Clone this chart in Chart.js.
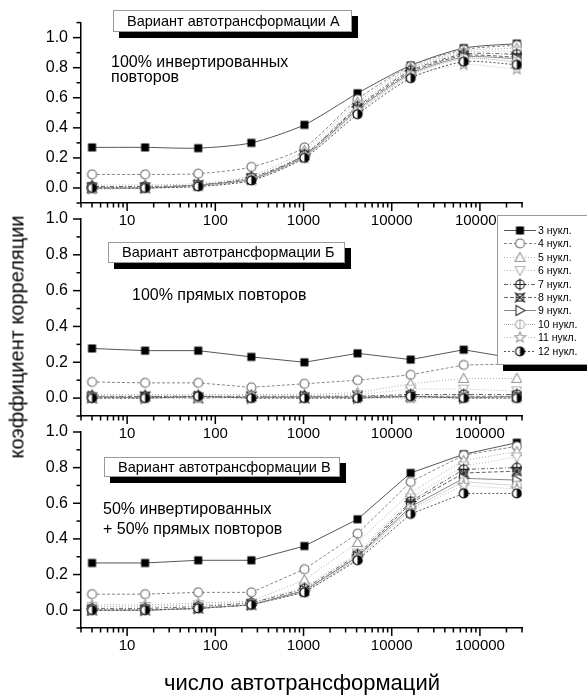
<!DOCTYPE html>
<html>
<head>
<meta charset="utf-8">
<script src="https://cdn.jsdelivr.net/npm/chart.js@4.4.0/dist/chart.umd.min.js"></script>
<style>
html, body { margin: 0; padding: 0; background: #fff; overflow: hidden; }
#wrap { position: relative; width: 587px; height: 698px; overflow: hidden; font-family: "Liberation Sans", Arial, sans-serif; color: #000; }
#wrap canvas.panel { position: absolute; left: 0; top: 0; }
.vbox { position: absolute; box-sizing: border-box; background: #fff; border: 1px solid #999; box-shadow: 6px 6px 0 #000; font-size: 14.5px; white-space: nowrap; padding-left: 13px; }
.note { position: absolute; font-size: 16px; white-space: nowrap; }
.title { position: absolute; white-space: nowrap; transform: translate(-50%, -50%); }
#legend { position: absolute; left: 497px; top: 215px; width: 110px; height: 150px; box-sizing: border-box; background: #fff; border: 1px solid #999; box-shadow: 6px 6px 0 #000; padding-top: 8px; }
#legend .row { position: relative; height: 13.4px; font-size: 10.5px; line-height: 13.4px; }
#legend .row canvas { position: absolute; left: 6px; top: 0; }
#legend .row span { position: absolute; left: 40px; top: 0; white-space: nowrap; }
</style>
</head>
<body>
<div id="wrap">
  <canvas id="chartA" class="panel" width="587" height="698"></canvas>
  <canvas id="chartB" class="panel" width="587" height="698"></canvas>
  <canvas id="chartC" class="panel" width="587" height="698"></canvas>

  <div class="vbox" style="left:113px;top:10px;width:239px;height:22px;line-height:20px;">Вариант автотрансформации А</div>
  <div class="note" style="left:111px;top:54px;line-height:15px;">100% инвертированных<br>повторов</div>

  <div class="vbox" style="left:108px;top:242px;width:237px;height:21px;line-height:19px;">Вариант автотрансформации Б</div>
  <div class="note" style="left:132px;top:287px;line-height:16px;">100% прямых повторов</div>

  <div class="vbox" style="left:104px;top:457px;width:236px;height:20px;line-height:18px;">Вариант автотрансформации В</div>
  <div class="note" style="left:103px;top:499px;line-height:20px;">50% инвертированных<br>+ 50% прямых повторов</div>

  <div class="title" style="left:17px;top:337px;font-size:20px;transform:translate(-50%,-50%) rotate(-90deg);">коэффициент корреляции</div>
  <div class="title" style="left:302px;top:683px;font-size:22px;">число автотрансформаций</div>

  <div id="legend"></div>
</div>

<script>
// --- datos ---
const xValues = [4, 16, 64, 256, 1024, 4096, 16384, 65536, 262144];
const seriesLabels = ['3 нукл.', '4 нукл.', '5 нукл.', '6 нукл.', '7 нукл.', '8 нукл.', '9 нукл.', '10 нукл.', '11 нукл.', '12 нукл.'];
const yTickLabels = ['0.0', '0.2', '0.4', '0.6', '0.8', '1.0'];

// Вариант А: 100% инвертированных повторов
const panelA = [
  [0.27, 0.27, 0.265, 0.30, 0.42, 0.63, 0.815, 0.93, 0.96],
  [0.09, 0.09, 0.095, 0.14, 0.27, 0.59, 0.81, 0.92, 0.95],
  [0.02, 0.02, 0.03, 0.08, 0.25, 0.57, 0.80, 0.91, 0.93],
  [0.01, 0.01, 0.02, 0.07, 0.23, 0.55, 0.79, 0.90, 0.91],
  [0.01, 0.01, 0.02, 0.07, 0.22, 0.54, 0.78, 0.89, 0.89],
  [0.00, 0.00, 0.02, 0.06, 0.22, 0.53, 0.77, 0.88, 0.87],
  [0.00, 0.00, 0.02, 0.06, 0.21, 0.52, 0.76, 0.87, 0.86],
  [0.00, 0.00, 0.01, 0.06, 0.21, 0.51, 0.75, 0.86, 0.84],
  [-0.01, 0.00, 0.01, 0.05, 0.20, 0.50, 0.74, 0.82, 0.79],
  [0.00, 0.00, 0.01, 0.05, 0.20, 0.49, 0.73, 0.84, 0.82]
];

// Вариант Б: 100% прямых повторов
const panelB = [
  [0.277, 0.265, 0.265, 0.23, 0.20, 0.25, 0.215, 0.27, 0.22],
  [0.09, 0.085, 0.085, 0.06, 0.08, 0.10, 0.13, 0.185, 0.19],
  [0.02, 0.02, 0.02, 0.02, 0.02, 0.03, 0.08, 0.11, 0.11],
  [0.01, 0.01, 0.01, 0.01, 0.01, 0.02, 0.05, 0.05, 0.04],
  [0.01, 0.01, 0.01, 0.01, 0.01, 0.01, 0.02, 0.02, 0.02],
  [0.00, 0.01, 0.00, 0.01, 0.00, 0.01, 0.01, 0.01, 0.01],
  [0.01, 0.00, 0.01, 0.00, 0.01, 0.00, 0.01, 0.00, 0.01],
  [0.00, 0.00, 0.00, 0.01, 0.00, 0.01, 0.00, 0.01, 0.00],
  [0.00, 0.00, 0.00, 0.00, 0.00, 0.00, 0.00, 0.00, 0.00],
  [0.00, 0.00, 0.01, 0.00, 0.00, 0.00, 0.01, 0.00, 0.00]
];

// Вариант В: 50% инвертированных + 50% прямых повторов
const panelC = [
  [0.265, 0.265, 0.28, 0.28, 0.36, 0.51, 0.77, 0.875, 0.94],
  [0.09, 0.09, 0.10, 0.10, 0.23, 0.43, 0.72, 0.87, 0.92],
  [0.03, 0.03, 0.04, 0.05, 0.17, 0.38, 0.66, 0.84, 0.89],
  [0.02, 0.02, 0.03, 0.04, 0.13, 0.32, 0.63, 0.81, 0.86],
  [0.01, 0.01, 0.02, 0.04, 0.12, 0.31, 0.61, 0.79, 0.80],
  [0.00, 0.00, 0.01, 0.03, 0.11, 0.30, 0.60, 0.77, 0.78],
  [0.00, 0.00, 0.01, 0.03, 0.11, 0.30, 0.58, 0.74, 0.73],
  [0.00, 0.00, 0.01, 0.03, 0.10, 0.29, 0.57, 0.72, 0.70],
  [0.00, 0.00, 0.01, 0.03, 0.10, 0.29, 0.56, 0.70, 0.68],
  [0.00, 0.00, 0.01, 0.03, 0.10, 0.28, 0.54, 0.655, 0.655]
];

// --- estilo de cada serie ---
const markerKinds = ['square', 'circle', 'triUp', 'triDown', 'circlePlus', 'xBox', 'triRight', 'circleBar', 'star', 'halfCircle'];
const markerColors = ['#000', '#666', '#999', '#b5b5b5', '#222', '#222', '#333', '#aaa', '#999', '#000'];
const lineColors = ['#555', '#888', '#aaa', '#bbb', '#666', '#666', '#888', '#aaa', '#bbb', '#555'];
const lineDashes = [[], [3, 2], [1, 2], [1, 2], [4, 2, 1, 2], [4, 2], [], [1, 1], [1, 2], [2, 2]];

function makeMarker(kind, color) {
  const c = document.createElement('canvas');
  c.width = 13; c.height = 13;
  const g = c.getContext('2d');
  const m = 6.5, r = 4.5;
  g.lineWidth = 1.1;
  g.strokeStyle = color;
  g.fillStyle = '#fff';
  const poly = (pts) => {
    g.beginPath();
    pts.forEach((p, i) => i ? g.lineTo(p[0], p[1]) : g.moveTo(p[0], p[1]));
    g.closePath(); g.fill(); g.stroke();
  };
  const circ = () => { g.beginPath(); g.arc(m, m, r, 0, Math.PI * 2); g.fill(); g.stroke(); };
  switch (kind) {
    case 'square':
      g.fillStyle = color; g.fillRect(m - 4, m - 4, 8, 8); break;
    case 'circle':
      circ(); break;
    case 'triUp':
      poly([[m, m - 5], [m + 5, m + 4], [m - 5, m + 4]]); break;
    case 'triDown':
      poly([[m - 5, m - 4], [m + 5, m - 4], [m, m + 5]]); break;
    case 'triRight':
      poly([[m - 4, m - 5], [m + 5, m], [m - 4, m + 5]]); break;
    case 'circlePlus':
      circ();
      g.beginPath(); g.moveTo(m, m - 6); g.lineTo(m, m + 6); g.moveTo(m - 6, m); g.lineTo(m + 6, m); g.stroke(); break;
    case 'circleBar':
      circ();
      g.beginPath(); g.moveTo(m, m - r); g.lineTo(m, m + r); g.stroke(); break;
    case 'xBox':
      g.strokeRect(m - 3.5, m - 3.5, 7, 7);
      g.beginPath(); g.moveTo(m - 5, m - 5); g.lineTo(m + 5, m + 5); g.moveTo(m + 5, m - 5); g.lineTo(m - 5, m + 5); g.stroke(); break;
    case 'star': {
      const pts = [];
      for (let i = 0; i < 10; i++) {
        const a = -Math.PI / 2 + i * Math.PI / 5;
        const rr = i % 2 ? 2.4 : 5.5;
        pts.push([m + rr * Math.cos(a), m + rr * Math.sin(a)]);
      }
      poly(pts); break;
    }
    case 'halfCircle':
      g.strokeStyle = '#000';
      circ();
      g.fillStyle = '#000';
      g.beginPath(); g.arc(m, m, r, -Math.PI / 2, Math.PI / 2); g.closePath(); g.fill(); break;
  }
  return c;
}

const markers = markerKinds.map((k, i) => makeMarker(k, markerColors[i]));

function isDecade(v) {
  const l = Math.log10(v);
  return Math.abs(l - Math.round(l)) < 1e-9;
}

// marcas de las escalas (mayores y menores), hacia afuera
const tickMarks = {
  id: 'tickMarks',
  afterDraw(chart) {
    const ctx = chart.ctx;
    const xs = chart.scales.x, ys = chart.scales.y;
    ctx.save();
    ctx.strokeStyle = '#000';
    ctx.lineWidth = 1.5;
    xs.ticks.forEach(t => {
      const px = xs.getPixelForValue(t.value);
      const len = isDecade(t.value) ? 8 : 4.5;
      ctx.beginPath(); ctx.moveTo(px, xs.top); ctx.lineTo(px, xs.top + len); ctx.stroke();
    });
    ys.ticks.forEach(t => {
      const py = ys.getPixelForValue(t.value);
      const len = t.label ? 8 : 4.5;
      ctx.beginPath(); ctx.moveTo(ys.right, py); ctx.lineTo(ys.right - len, py); ctx.stroke();
    });
    ctx.restore();
  }
};

function buildPanel(id, values, yMax, top, bottom, tension) {
  const datasets = values.map((vals, i) => ({
    label: seriesLabels[i],
    data: vals.map((v, j) => ({ x: xValues[j], y: v })),
    borderColor: lineColors[i],
    borderWidth: 1,
    borderDash: lineDashes[i],
    pointStyle: markers[i],
    pointRadius: 5,
    fill: false,
    tension: tension,
    order: values.length - i
  }));
  return new Chart(document.getElementById(id), {
    type: 'line',
    data: { datasets: datasets },
    plugins: [tickMarks],
    options: {
      responsive: false,
      animation: false,
      events: [],
      layout: { padding: { left: 0, right: 65, top: top, bottom: 698 - bottom - 30 } },
      plugins: { legend: { display: false }, tooltip: { enabled: false } },
      scales: {
        x: {
          type: 'logarithmic',
          min: 3, max: 300000,
          grid: { display: false, drawTicks: false },
          border: { display: true, color: '#000', width: 1.5 },
          afterBuildTicks(scale) {
            scale.ticks = scale.ticks.filter(t => {
              const e = Math.floor(Math.log10(t.value) + 1e-9);
              const mant = t.value / Math.pow(10, e);
              return Math.abs(mant - Math.round(mant)) < 1e-6;
            });
          },
          afterFit(scale) { scale.height = 30; },
          ticks: {
            autoSkip: false, maxRotation: 0, padding: 9, color: '#000',
            font: { family: '"Liberation Sans", Arial, sans-serif', size: 15 },
            callback: (v) => isDecade(v) ? String(Math.round(v)) : ''
          }
        },
        y: {
          min: -0.1, max: yMax,
          grid: { display: false, drawTicks: false },
          border: { display: true, color: '#000', width: 1.5 },
          afterFit(scale) { scale.width = 81; },
          ticks: {
            stepSize: 0.1, autoSkip: false, padding: 13, color: '#000',
            font: { family: '"Liberation Sans", Arial, sans-serif', size: 16 },
            callback: (v) => {
              const k = Math.round(v * 10);
              return (k >= 0 && k % 2 === 0) ? yTickLabels[k / 2] : '';
            }
          }
        }
      }
    }
  });
}

buildPanel('chartA', panelA, 1.1, 7.7, 203, 0.25);
buildPanel('chartB', panelB, 1.0, 219, 416, 0);
buildPanel('chartC', panelC, 1.0, 432, 628, 0);

// leyenda
const legendEl = document.getElementById('legend');
seriesLabels.forEach((lab, i) => {
  const row = document.createElement('div');
  row.className = 'row';
  const c = document.createElement('canvas');
  c.width = 32; c.height = 13;
  const g = c.getContext('2d');
  g.strokeStyle = lineColors[i];
  g.lineWidth = 1;
  g.setLineDash(lineDashes[i]);
  g.beginPath(); g.moveTo(0, 6.5); g.lineTo(32, 6.5); g.stroke();
  g.drawImage(markers[i], 16 - 6.5, 0);
  const s = document.createElement('span');
  s.textContent = lab;
  row.appendChild(c);
  row.appendChild(s);
  legendEl.appendChild(row);
});
</script>
</body>
</html>
